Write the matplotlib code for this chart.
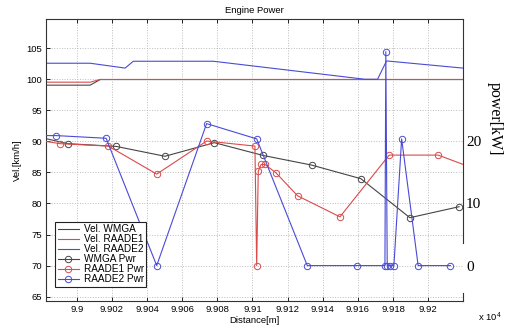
import matplotlib.pyplot as plt
from matplotlib.ticker import FuncFormatter

plt.rcParams['font.family'] = 'Liberation Sans'
plt.rcParams['mathtext.default'] = 'regular'

# velocity traces (x in metres, km/h)
vel_x = [98980, 99007.6, 99013.3, 99225]
vel_wmga = [99.05, 99.05, 99.95, 99.95]
vel_raade1 = [99.53, 99.53, 99.97, 99.97]

vel2_x = [98980, 99007.6, 99027.5, 99032.2, 99077.7, 99164.0, 99171.2, 99176.3, 99225]
vel_raade2 = [102.58, 102.58, 101.8, 102.9, 102.9, 100.0, 100.0, 102.95, 101.66]

# engine power (kW)
wmga_x = [98980, 98994.9, 99022.4, 99050.2, 99078.3, 99105.8, 99133.7, 99161.7, 99189.6, 99217.6]
wmga_pwr = [20.6, 19.63, 19.19, 17.6, 19.79, 17.75, 16.18, 13.99, 7.71, 9.48]

raade1_x = [98980, 98990.5, 99018.0, 99045.5, 99073.9, 99101.4, 99102.4, 99103.3, 99104.9,
            99107.1, 99113.4, 99125.7, 99149.8, 99177.8, 99205.7, 99235]
raade1_pwr = [20.1, 19.63, 19.24, 14.73, 20.05, 19.24, 0.0, 15.2, 16.28,
              16.28, 14.93, 11.23, 7.85, 17.79, 17.79, 14.7]

raade2_x = [98980, 98988.2, 99016.7, 99045.5, 99073.9, 99102.4, 99131.2, 99159.3, 99175.4,
            99175.9, 99176.7, 99178.2, 99180.5, 99184.9, 99194.3, 99212.7]
raade2_pwr = [20.93, 20.93, 20.5, 0.0, 22.86, 20.4, 0.0, 0.0, 0.0,
              34.45, 0.0, 0.0, 0.0, 20.4, 0.0, 0.0]

c_k = '#454545'
c_r = '#dc4a4a'
c_b = '#4a4ad8'

fig = plt.figure(figsize=(5.08, 3.26), dpi=100)
ax = fig.add_axes([0.0906, 0.0767, 0.8214, 0.865])

ax.plot(vel_x, vel_wmga, color=c_k, lw=0.8, label='Vel. WMGA')
ax.plot(vel_x, vel_raade1, color=c_r, lw=0.8, label='Vel. RAADE1')
ax.plot(vel2_x, vel_raade2, color=c_b, lw=0.8, label='Vel. RAADE2')

ax.set_xlim(98982.5, 99220)
ax.set_ylim(64.3, 109.7)
ax.set_xticks(range(99000, 99201, 20))
ax.set_yticks(range(65, 106, 5))
ax.xaxis.set_major_formatter(FuncFormatter(lambda v, p: f'{v / 1e4:g}'))
ax.tick_params(direction='in', length=3, width=0.6, labelsize=6.8, top=True, right=True, pad=3)
ax.grid(True, linestyle=':', color='#bdbdbd', lw=0.7)
ax.set_axisbelow(True)
for s in ['left', 'top', 'bottom']:
    ax.spines[s].set_linewidth(0.8)
    ax.spines[s].set_color('#333333')
ax.spines['right'].set_visible(False)
ax.plot([1, 1], [0, 0.028], transform=ax.transAxes, color='#333333', lw=0.8, clip_on=False)
ax.plot([1, 1], [0.206, 1], transform=ax.transAxes, color='#333333', lw=0.8, clip_on=False)

ax.set_title('Engine Power', fontsize=6.8, pad=4)
ax.set_xlabel('Distance[m]', fontsize=6.8, labelpad=1)
ax.set_ylabel('Vel.[km/h]', fontsize=6.8, labelpad=3)

ax2 = ax.twinx()
ax2.plot(wmga_x, wmga_pwr, color=c_k, lw=0.8, marker='o', ms=4.6, mfc='none', mew=0.7, label='WMGA Pwr')
ax2.plot(raade1_x, raade1_pwr, color=c_r, lw=0.8, marker='o', ms=4.6, mfc='none', mew=0.7, label='RAADE1 Pwr')
ax2.plot(raade2_x, raade2_pwr, color=c_b, lw=0.8, marker='o', ms=4.6, mfc='none', mew=0.7, label='RAADE2 Pwr')
ax2.set_ylim(64.3 - 70, 109.7 - 70)
ax2.set_yticks([0, 10, 20])
ax2.tick_params(length=0, pad=2, labelsize=11)
for t in ax2.get_yticklabels():
    t.set_family('Liberation Serif')
for s in ax2.spines.values():
    s.set_visible(False)

fig.text(495 / 508, 1 - 119 / 326, 'power[kW]', rotation=270, ha='center', va='center',
         family='Liberation Serif', fontsize=11.5)
fig.text(490 / 508, 1 - 317 / 326, 'x 10$^4$', fontsize=6.8, ha='center', va='center')

h1, l1 = ax.get_legend_handles_labels()
h2, l2 = ax2.get_legend_handles_labels()
leg = ax2.legend(h1 + h2, l1 + l2, loc='lower left', bbox_to_anchor=(0.0216, 0.05), borderaxespad=0,
                 fontsize=7.2, fancybox=False, edgecolor='#222222', framealpha=1,
                 handlelength=2.1, labelspacing=0.0, borderpad=0.25, handletextpad=0.5)
leg.get_frame().set_linewidth(0.8)

fig.savefig('out.png', dpi=100)
